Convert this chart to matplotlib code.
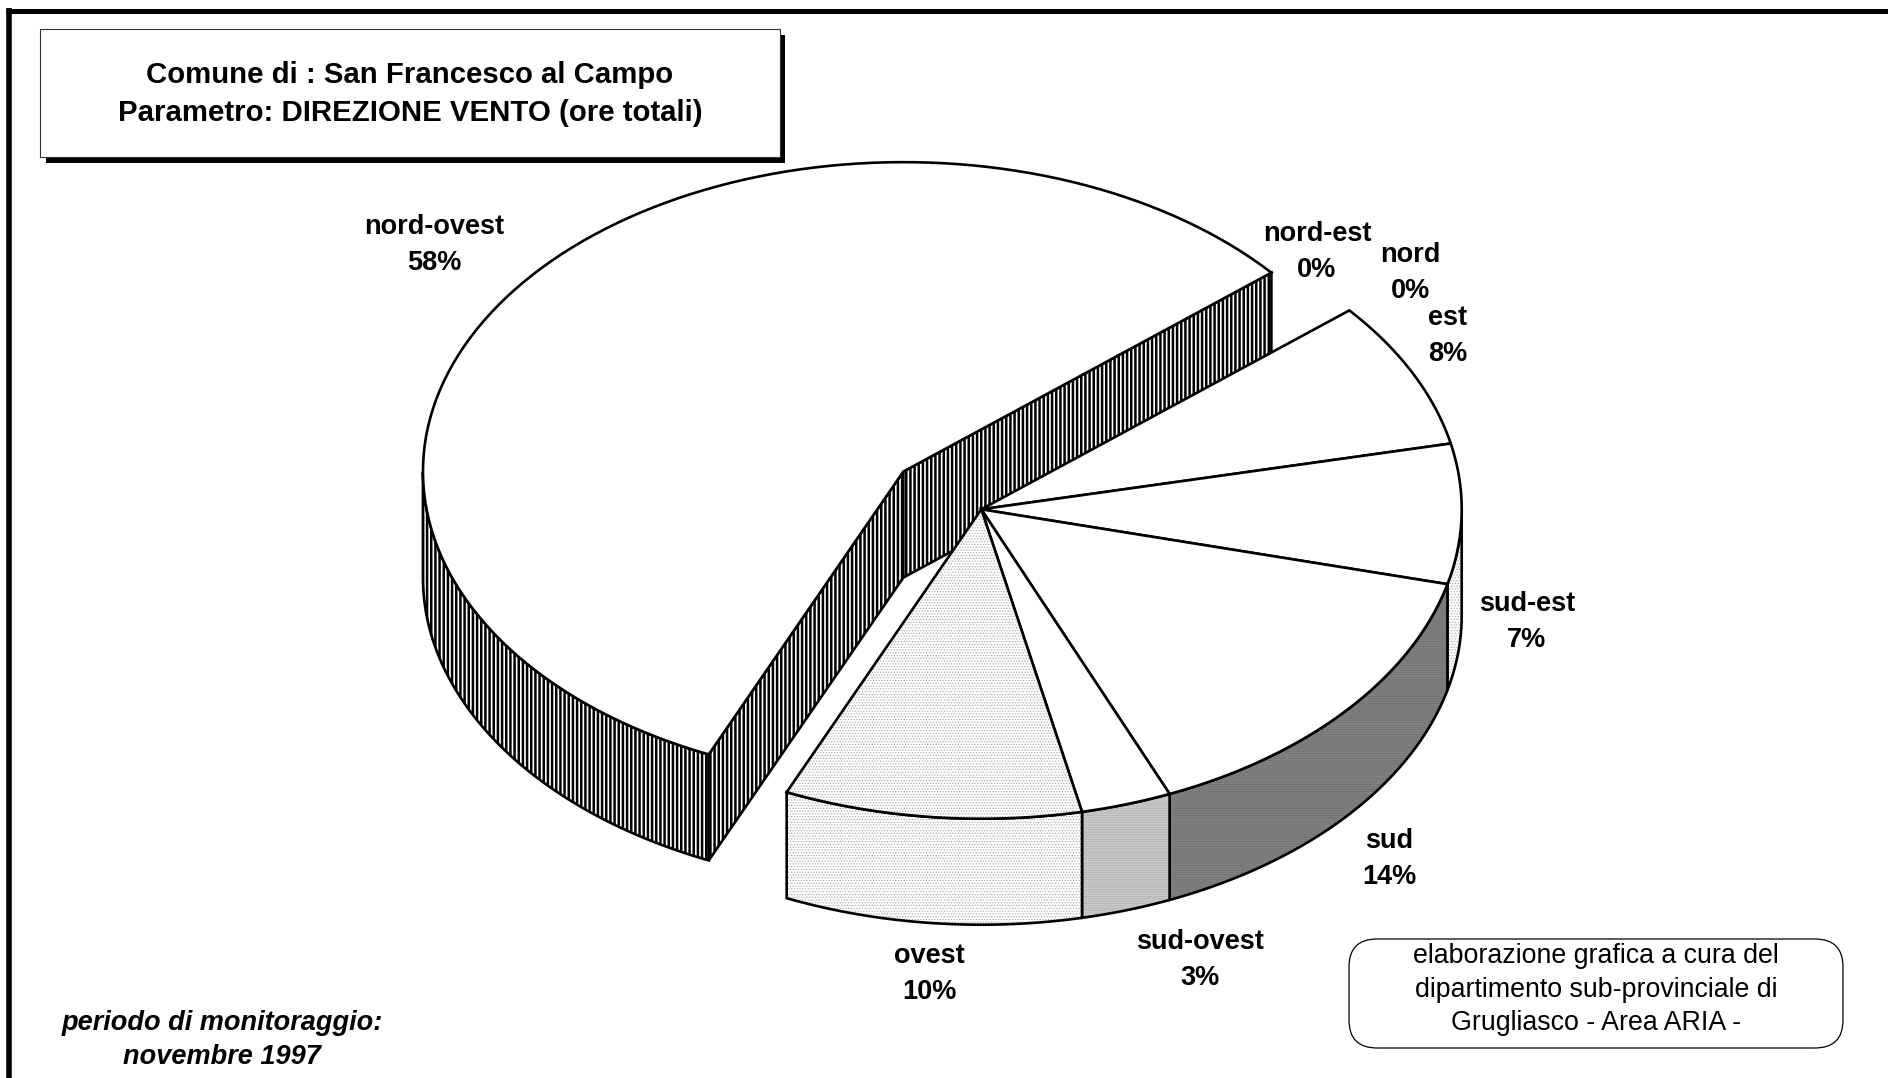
import numpy as np
import matplotlib
matplotlib.use('Agg')
import matplotlib.pyplot as plt
from matplotlib.patches import Polygon, Rectangle, FancyBboxPatch

plt.rcParams['font.family'] = ['Liberation Sans', 'DejaVu Sans']

# slices, clockwise from the top right
directions = ['nord-est', 'nord', 'est', 'sud-est', 'sud', 'sud-ovest', 'ovest', 'nord-ovest']
shares = [0, 0, 7.7, 7.3, 14.7, 3.05, 10.0, 57.25]
percent_labels = ['0%', '0%', '8%', '7%', '14%', '3%', '10%', '58%']
explode = [0, 0, 0, 0, 0, 0, 0, 0.203]

# looks: top colour, wall colour, hatch colour, hatch
tops = ['white', 'white', 'white', 'white', 'white', 'white', '#fcfcfc', 'white']
walls = ['white', 'white', 'white', '#fcfcfc', '#808080', '#c8c8c8', '#fcfcfc', 'white']
hatch_colors = ['k', 'k', 'k', '#a8a8a8', '#707070', '#b0b0b0', '#a8a8a8', 'black']
wall_hatch = [None, None, None, '......', '-------', '-------', '......', '||||']
top_hatch = [None, None, None, None, None, None, '......', None]

label_xy = [(1317, 252), (1410, 273), (1448, 336), (1527, 622),
            (1389, 859), (1200, 960), (929, 974), (434, 245)]

cx, cy = 981.3, 509.3
rx, ry = 480.4, 309.4
depth = 106
start_angle = 40.0
LW = 1.9


def rim(x0, y0, a1, a2):
    t = np.radians(np.linspace(a1, a2, 120))
    return np.column_stack([x0 + rx * np.cos(t), y0 - ry * np.sin(t)])


def shape(ax, pts, fc, hatch=None, hc='k', z=2):
    if hatch:
        plt.rcParams['hatch.linewidth'] = 1.8 if '|' in hatch else 0.5
        ax.add_patch(Polygon(pts, closed=True, facecolor=fc, edgecolor=hc,
                             hatch=hatch, lw=0, zorder=z))
    else:
        ax.add_patch(Polygon(pts, closed=True, facecolor=fc, edgecolor='none', zorder=z))
    ax.add_patch(Polygon(pts, closed=True, facecolor='none', edgecolor='black',
                         lw=LW, joinstyle='miter', zorder=z))


fig = plt.figure(figsize=(18.88, 10.78), dpi=100)
ax = fig.add_axes([0, 0, 1, 1])
ax.set_xlim(0, 1888)
ax.set_ylim(1078, 0)
ax.axis('off')

# outer frame, only top and left show
ax.plot([6, 1888], [10.5, 10.5], color='black', lw=3.6, zorder=1, solid_capstyle='butt')
ax.plot([9, 9], [8, 1078], color='black', lw=4.0, zorder=1, solid_capstyle='butt')

angles = start_angle - np.cumsum([0] + shares) / sum(shares) * 360
order = sorted(range(len(shares)), key=lambda i: -explode[i])
z = 2
for i in order:
    if shares[i] == 0:
        continue
    a1, a2 = angles[i], angles[i + 1]
    mid = np.radians((a1 + a2) / 2)
    x0 = cx + explode[i] * rx * np.cos(mid)
    y0 = cy - explode[i] * ry * np.sin(mid)

    # outer wall, only the part facing down
    lo_a, hi_a = max(a2, -180), min(a1, 0)
    if lo_a < hi_a:
        top_edge = rim(x0, y0, hi_a, lo_a)
        low_edge = top_edge[::-1] + [0, depth]
        shape(ax, np.vstack([top_edge, low_edge]), walls[i], wall_hatch[i], hatch_colors[i], z)

    # cut faces of the pulled out slice
    if explode[i] > 0:
        for a in (a1, a2):
            p = rim(x0, y0, a, a)[0]
            face = [(x0, y0), p, p + [0, depth], (x0, y0 + depth)]
            shape(ax, face, walls[i], wall_hatch[i], hatch_colors[i], z)
    z += 1

# tops: the pulled out slice first, the rest over its walls
for i in order:
    if shares[i] == 0:
        continue
    a1, a2 = angles[i], angles[i + 1]
    mid = np.radians((a1 + a2) / 2)
    x0 = cx + explode[i] * rx * np.cos(mid)
    y0 = cy - explode[i] * ry * np.sin(mid)
    pts = np.vstack([[(x0, y0)], rim(x0, y0, a1, a2)])
    shape(ax, pts, tops[i], top_hatch[i], hatch_colors[i], z)
    z += 1

for name, pct, (lx, ly) in zip(directions, percent_labels, label_xy):
    ax.text(lx, ly, name + '\n' + pct, ha='center', va='center', fontsize=19.5,
            fontweight='bold', linespacing=1.5, zorder=50)

# title box with shadow
ax.add_patch(Rectangle((46, 35), 739, 128, facecolor='black', edgecolor='none', zorder=40))
ax.add_patch(Rectangle((40, 29), 740, 128, facecolor='white', edgecolor='#333333', lw=0.8, zorder=41))
ax.text(410, 75, 'Comune di : San Francesco al Campo', ha='center', va='center',
        fontsize=21.2, fontweight='bold', zorder=42)
ax.text(410, 113, 'Parametro: DIREZIONE VENTO (ore totali)', ha='center', va='center',
        fontsize=21.2, fontweight='bold', zorder=42)

# credit box
ax.add_patch(FancyBboxPatch((1349, 939), 494, 109, boxstyle='round,pad=0,rounding_size=28',
                            facecolor='white', edgecolor='black', lw=0.9, zorder=41))
credit_lines = ['elaborazione grafica a cura del', 'dipartimento sub-provinciale di', 'Grugliasco - Area ARIA -']
for line, y in zip(credit_lines, [956, 990, 1023]):
    ax.text(1596, y, line, ha='center', va='center', fontsize=19.3, zorder=42)

ax.text(222, 1023, 'periodo di monitoraggio:', ha='center', va='center', fontsize=19.5,
        fontweight='bold', fontstyle='italic')
ax.text(222, 1057, 'novembre 1997', ha='center', va='center', fontsize=19.5,
        fontweight='bold', fontstyle='italic')

fig.savefig('out.png', dpi=100)
